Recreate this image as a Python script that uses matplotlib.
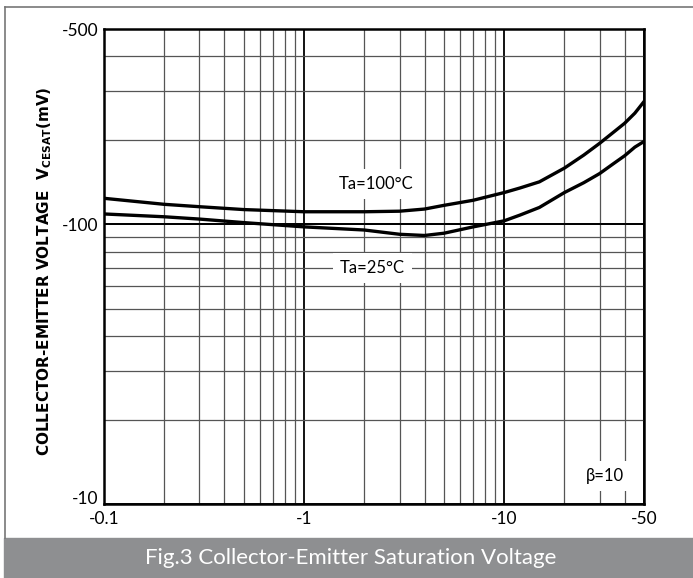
import numpy as np
import matplotlib
matplotlib.use("Agg")
from matplotlib import pyplot as plt
from matplotlib.patches import Rectangle
from matplotlib.lines import Line2D

# collector current (mA, shown as negative) and saturation voltage (mV)
ic = [0.1, 0.2, 0.3, 0.5, 1, 2, 3, 4, 5, 7, 10, 12, 15, 20, 25, 30, 35, 40, 45, 50]
vce_100c = [124, 118, 115.7, 113, 111, 111, 111.5, 113.5, 117, 122, 130, 135, 142, 159, 177, 195, 213, 230, 250, 275]
vce_25c = [109, 106.5, 104.5, 101.5, 98, 95.5, 92.2, 91.3, 93, 98, 103, 108, 115, 130, 141, 152, 164.5, 176, 189, 198]

xticks = [0.1, 1, 10, 50]
xlabels = ["-0.1", "-1", "-10", "-50"]
yticks = [10, 100, 500]
ylabels = ["-10", "-100", "-500"]

caption = "Fig.3 Collector-Emitter Saturation Voltage"
fonts = ["Lato", "DejaVu Sans"]

fig = plt.figure(figsize=(6.93, 5.78), dpi=100)
ax = fig.add_axes([104 / 693, 1 - 504 / 578, 540 / 693, 475 / 578])
ax.set_xscale("log")
ax.set_yscale("log")
ax.set_xlim(0.1, 50)
ax.set_ylim(10, 500)

# grid: decades darker, the rest grey
ax.grid(which="minor", color="#555555", lw=0.9, zorder=1)
ax.grid(which="major", color="black", lw=1.3, zorder=1)
ax.axhline(100, color="black", lw=1.3, zorder=1)
ax.set_xticks(xticks)
ax.set_xticklabels(xlabels, family=fonts, fontsize=12.5)
ax.set_yticks(yticks)
ax.set_yticklabels(ylabels, family=fonts, fontsize=12.5)
ax.xaxis.set_minor_locator(matplotlib.ticker.LogLocator(subs=np.arange(2, 10)))
ax.yaxis.set_minor_locator(matplotlib.ticker.LogLocator(subs=np.arange(2, 10)))
ax.xaxis.set_minor_formatter(matplotlib.ticker.NullFormatter())
ax.yaxis.set_minor_formatter(matplotlib.ticker.NullFormatter())
ax.tick_params(which="both", length=0)
ax.tick_params(axis="x", pad=5)
ax.tick_params(axis="y", pad=4)
ax.get_yticklabels()[0].set_va("baseline")
for s in ax.spines.values():
  s.set_linewidth(1.8)

ax.plot(ic, vce_100c, color="black", lw=2.4, zorder=3)
ax.plot(ic, vce_25c, color="black", lw=2.4, zorder=3)

box = dict(facecolor="white", edgecolor="none", pad=5)
ax.text(2.3, 140, "Ta=100°C", family=fonts, fontsize=12, ha="center", va="center", bbox=box, zorder=4)
ax.text(2.2, 70, "Ta=25°C", family=fonts, fontsize=12, ha="center", va="center", bbox=box, zorder=4)
ax.text(32, 12.6, "β=10", family=fonts, fontsize=12, ha="center", va="center", bbox=box, zorder=4)

ax.set_ylabel(r"COLLECTOR-EMITTER VOLTAGE  V$_{\mathregular{CESAT}}$(mV)",
              fontsize=11, fontweight="bold", family="DejaVu Sans", labelpad=2)
ax.yaxis.set_label_coords(-0.092, 0.49)

# outer frame and caption bar
fig.add_artist(Line2D([4.5 / 693, 4.5 / 693], [1 - 538 / 578, 1 - 7 / 578], color="#777777", lw=1.2))
fig.add_artist(Line2D([4.5 / 693, 1], [1 - 7 / 578, 1 - 7 / 578], color="#777777", lw=1.2))
fig.add_artist(Rectangle((4 / 693, 0), 1, 40 / 578, color="#8e8f91", transform=fig.transFigure))
fig.text(351 / 693, 1 - 558 / 578, caption, color="white", family=fonts, fontsize=16,
         ha="center", va="center")

fig.savefig("out.png", dpi=100)
